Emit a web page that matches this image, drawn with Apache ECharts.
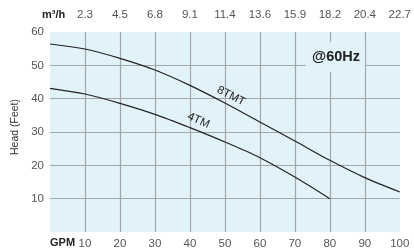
<!DOCTYPE html>
<html>
<head>
<meta charset="utf-8">
<script src="https://cdn.jsdelivr.net/npm/echarts@6/dist/echarts.min.js"></script>
<style>
  html, body { margin: 0; padding: 0; background: #fff; }
  #chart { width: 414px; height: 250px; }
</style>
</head>
<body>
<div id="chart"></div>
<script>
// flow in GPM (bottom axis) and matching m³/h ticks (top axis)
let gpmTicks = [10, 20, 30, 40, 50, 60, 70, 80, 90, 100]
let m3hLabels = ['2.3', '4.5', '6.8', '9.1', '11.4', '13.6', '15.9', '18.2', '20.4', '22.7']

// pump curves, head in feet
let flow8TMT = [0, 10, 20, 30, 40, 50, 60, 70, 80, 90, 100]
let head8TMT = [56.4, 54.9, 52.1, 48.6, 44.0, 38.7, 33.0, 27.3, 21.5, 16.3, 12.0]
let flow4TM = [0, 10, 20, 30, 40, 50, 60, 70, 80]
let head4TM = [43.1, 41.4, 38.6, 35.3, 31.3, 27.0, 22.3, 16.5, 10.0]

let bgColor = '#e1f2f9'
let gridColor = '#a2a7aa'
let fontFamily = 'Liberation Sans, Arial, sans-serif'

function pairs(xs, ys) {
  return xs.map(function (x, i) {
    return [x, ys[i]]
  })
}

var myChart = echarts.init(document.getElementById('chart'), null, { renderer: 'canvas' })
myChart.setOption({
  animation: false,
  textStyle: { fontFamily: fontFamily },
  grid: {
    left: 50,
    right: 8,
    top: 32,
    bottom: 18,
    show: true,
    backgroundColor: bgColor,
    borderWidth: 0
  },
  xAxis: [
    {
      type: 'value',
      position: 'bottom',
      min: 0,
      max: 100,
      interval: 10,
      axisLine: { show: false },
      axisTick: { show: false },
      axisLabel: {
        margin: 6,
        color: '#555',
        fontSize: 11.5,
        formatter: function (v) {
          return gpmTicks.indexOf(v) >= 0 ? String(v) : ''
        }
      },
      splitLine: {
        show: true,
        showMinLine: false,
        showMaxLine: false,
        lineStyle: { color: gridColor, width: 1.2 }
      }
    },
    {
      type: 'value',
      position: 'top',
      min: 0,
      max: 100,
      interval: 10,
      axisLine: { show: false },
      axisTick: { show: false },
      axisLabel: {
        margin: 11,
        color: '#555',
        fontSize: 11.5,
        formatter: function (v) {
          let i = gpmTicks.indexOf(v)
          return i >= 0 ? m3hLabels[i] : ''
        }
      },
      splitLine: { show: false }
    }
  ],
  yAxis: {
    type: 'value',
    min: 0,
    max: 60,
    interval: 10,
    axisLine: { show: false },
    axisTick: { show: false },
    axisLabel: {
      margin: 6,
      color: '#555',
      fontSize: 11.5,
      formatter: function (v) {
        return v === 0 ? '' : String(v)
      }
    },
    splitLine: {
      show: true,
      showMinLine: false,
      showMaxLine: false,
      lineStyle: { color: gridColor, width: 1.2 }
    }
  },
  graphic: [
    {
      type: 'text',
      x: 15,
      y: 127,
      rotation: Math.PI / 2,
      style: {
        text: 'Head (Feet)',
        fill: '#333',
        font: '10.5px ' + fontFamily,
        align: 'center',
        verticalAlign: 'middle'
      }
    },
    {
      type: 'text',
      left: 42,
      top: 9,
      style: { text: 'm³/h', fill: '#222', font: 'bold 11px ' + fontFamily }
    },
    {
      type: 'text',
      left: 50,
      top: 237,
      style: { text: 'GPM', fill: '#222', font: 'bold 11px ' + fontFamily }
    },
    {
      type: 'rect',
      shape: { x: 306, y: 42, width: 59, height: 30 },
      style: { fill: bgColor },
      z: 10
    },
    {
      type: 'text',
      x: 336,
      y: 57,
      z: 11,
      style: {
        text: '@60Hz',
        fill: '#222',
        font: 'bold 14.5px ' + fontFamily,
        align: 'center',
        verticalAlign: 'middle'
      }
    },
    {
      type: 'text',
      x: 231,
      y: 96,
      rotation: -0.47,
      z: 11,
      style: {
        text: '8TMT',
        fill: '#222',
        font: '11.5px ' + fontFamily,
        align: 'center',
        verticalAlign: 'middle'
      }
    },
    {
      type: 'text',
      x: 198.5,
      y: 120.5,
      rotation: -0.42,
      z: 11,
      style: {
        text: '4TM',
        fill: '#222',
        font: '11.5px ' + fontFamily,
        align: 'center',
        verticalAlign: 'middle'
      }
    }
  ],
  series: [
    {
      name: '8TMT',
      type: 'line',
      data: pairs(flow8TMT, head8TMT),
      smooth: 0.3,
      showSymbol: false,
      lineStyle: { color: '#222', width: 1.2 }
    },
    {
      name: '4TM',
      type: 'line',
      data: pairs(flow4TM, head4TM),
      smooth: 0.3,
      showSymbol: false,
      lineStyle: { color: '#222', width: 1.2 }
    }
  ]
})
</script>
</body>
</html>
